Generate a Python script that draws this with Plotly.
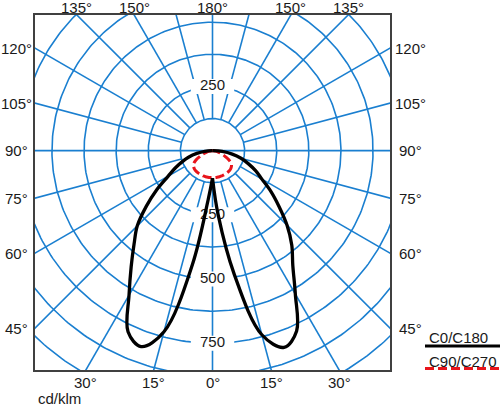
import numpy as np
import plotly.graph_objects as go

# luminous intensity in cd/klm, gamma = angle from nadir (deg)
gamma = [0, 5, 10, 15, 20, 25, 30, 35, 40, 45, 50, 55, 60, 65, 70, 75, 80, 85, 90]
c0 = [107, 250, 490, 742, 815, 775, 645, 545, 480, 410, 338, 278, 222, 185, 148, 115, 78, 38, 0]
c180 = [107, 190, 450, 730, 812, 778, 650, 552, 475, 414, 336, 265, 200, 160, 125, 95, 62, 30, 0]
c90 = [105, 105, 105, 105, 105, 104, 104, 103, 102, 100, 96, 90, 75, 55, 40, 25, 12, 4, 0]
c270 = [105, 105, 105, 105, 105, 104, 104, 103, 102, 100, 96, 90, 75, 55, 40, 25, 12, 4, 0]

grid_radii = [125, 250, 375, 500, 625, 750, 875, 1000, 1125]
grid_angles = list(range(0, 360, 15))
radius_labels = [250, 250, 500, 750]
radius_label_angles = [180, 0, 0, 0]

bottom_angles = [30, 15, 0, 15, 30]
bottom_sides = [-1, -1, 0, 1, 1]
top_angles = [135, 150, 180, 150, 135]
top_sides = [-1, -1, 0, 1, 1]
side_angles = [45, 60, 75, 90, 105, 120]

X_HALF = 691
Y_MIN = -854
Y_MAX = 528

BLUE = "#1a7fd0"
RED = "#e8141b"
FONT = "Liberation Sans, Arial, sans-serif"


def to_xy(r, g, side=1):
    r = np.asarray(r, dtype=float)
    g = np.radians(np.asarray(g, dtype=float))
    return side * r * np.sin(g), -r * np.cos(g)


fig = go.Figure()

# circles
cx, cy = [], []
t = np.linspace(0, 360, 361)
for r in grid_radii:
    x, y = to_xy(np.full_like(t, r), t)
    cx += list(x) + [None]
    cy += list(y) + [None]
fig.add_trace(go.Scatter(x=cx, y=cy, mode="lines", line=dict(color=BLUE, width=1.6),
                         hoverinfo="skip", showlegend=False))

# spokes
sx, sy = [], []
for a in grid_angles:
    start = 0 if a in (90, 270) else grid_radii[0]
    x, y = to_xy([start, 2000], [a, a])
    sx += list(x) + [None]
    sy += list(y) + [None]
fig.add_trace(go.Scatter(x=sx, y=sy, mode="lines", line=dict(color=BLUE, width=1.6),
                         hoverinfo="skip", showlegend=False))

# radius labels with white background
lx, ly = to_xy(radius_labels, radius_label_angles)
fig.add_trace(go.Scatter(x=lx, y=ly, mode="markers",
                         marker=dict(symbol="line-ew", size=31,
                                     line=dict(color="white", width=15)),
                         hoverinfo="skip", showlegend=False))
fig.add_trace(go.Scatter(x=lx, y=ly, mode="text", text=[str(v) for v in radius_labels],
                         textfont=dict(family=FONT, size=15, color="#1a1a1a"),
                         hoverinfo="skip", showlegend=False))

# C90/C270
rx_l, ry_l = to_xy(c270[::-1], gamma[::-1], -1)
rx_r, ry_r = to_xy(c90[1:], gamma[1:], 1)
fig.add_trace(go.Scatter(x=list(rx_l) + list(rx_r), y=list(ry_l) + list(ry_r), mode="lines",
                         line=dict(color=RED, width=3, dash="9px,4px", shape="spline"),
                         name="C90/C270", showlegend=False))

# C0/C180
bx, by = to_xy(c180, gamma, -1)
fig.add_trace(go.Scatter(x=bx, y=by, mode="lines",
                         line=dict(color="black", width=3.3, shape="spline"),
                         name="C180", showlegend=False))
bx, by = to_xy(c0, gamma, 1)
fig.add_trace(go.Scatter(x=bx, y=by, mode="lines",
                         line=dict(color="black", width=3.3, shape="spline"),
                         name="C0", showlegend=False))

ann = []
lab_font = dict(family=FONT, size=15, color="#1a1a1a")
for a, s in zip(bottom_angles, bottom_sides):
    ann.append(dict(x=s * abs(Y_MIN) * np.tan(np.radians(a)), xref="x", y=0, yref="paper",
                    yshift=-12, text=f"{a}°", showarrow=False, font=lab_font,
                    xanchor="center", yanchor="middle"))
for a, s in zip(top_angles, top_sides):
    ann.append(dict(x=s * Y_MAX * np.tan(np.radians(180 - a)), xref="x", y=1, yref="paper",
                    yshift=8, text=f"{a}°", showarrow=False, font=lab_font,
                    xanchor="center", yanchor="middle"))
for a in side_angles:
    yv = -X_HALF / np.tan(np.radians(a))
    ann.append(dict(x=0, xref="paper", xshift=-19, y=yv, yref="y", text=f"{a}°",
                    showarrow=False, font=lab_font, xanchor="center", yanchor="middle"))
    ann.append(dict(x=1, xref="paper", xshift=20, y=yv, yref="y", text=f"{a}°",
                    showarrow=False, font=lab_font, xanchor="center", yanchor="middle"))
ann.append(dict(x=0, xref="paper", xshift=1, y=0, yref="paper", yshift=-28,
                text="cd/klm", showarrow=False, font=lab_font, xanchor="left", yanchor="middle"))

# legend (text above its line sample)
ann.append(dict(x=1, xref="paper", xshift=37, y=0, yref="paper", yshift=33,
                text="C0/C180", showarrow=False, font=lab_font, xanchor="left", yanchor="middle"))
ann.append(dict(x=1, xref="paper", xshift=37, y=0, yref="paper", yshift=9,
                text="C90/C270", showarrow=False, font=lab_font, xanchor="left", yanchor="middle"))
shapes = [
    dict(type="line", xref="paper", yref="paper", xsizemode="pixel", ysizemode="pixel",
         xanchor=1, yanchor=0, x0=35, x1=112, y0=24, y1=24,
         line=dict(color="black", width=3)),
    dict(type="line", xref="paper", yref="paper", xsizemode="pixel", ysizemode="pixel",
         xanchor=1, yanchor=0, x0=35, x1=112, y0=1.5, y1=1.5,
         line=dict(color=RED, width=3, dash="9px,4px")),
]

fig.update_layout(
    width=500, height=406,
    margin=dict(l=35, r=110, t=15, b=36),
    paper_bgcolor="white", plot_bgcolor="white",
    annotations=ann, shapes=shapes,
    xaxis=dict(range=[-X_HALF, X_HALF], showgrid=False, zeroline=False, showticklabels=False,
               showline=True, mirror=True, linecolor="#404040", linewidth=1.5, fixedrange=True),
    yaxis=dict(range=[Y_MIN, Y_MAX], showgrid=False, zeroline=False, showticklabels=False,
               showline=True, mirror=True, linecolor="#404040", linewidth=1.5, fixedrange=True),
)

# page body has an 8px default margin; drop it so the figure sits at the window origin
fig.write_html("out.html", config={"displayModeBar": False},
               post_script="document.body.style.margin='0';")
